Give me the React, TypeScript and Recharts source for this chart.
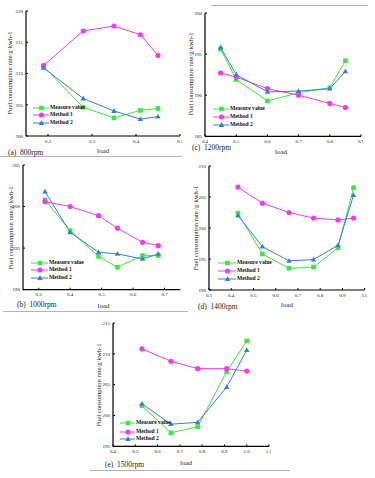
import React from "react";
import { LineChart, Line, XAxis, YAxis } from "recharts";

// ---------- data ----------
const load800 = [0.19, 0.28, 0.35, 0.41, 0.45];
const measure800 = [211.1, 204.6, 202.9, 204.1, 204.4];
const method1_800 = [211.3, 216.8, 217.6, 216.2, 212.9];
const method2_800 = [210.9, 206.0, 204.0, 202.7, 203.1];

const load1200 = [0.45, 0.5, 0.6, 0.7, 0.8, 0.85];
const measure1200 = [195.6, 191.9, 189.3, 190.3, 190.9, 194.2];
const method1_1200 = [192.7, 192.2, 190.8, 190.0, 189.0, 188.5];
const method2_1200 = [195.8, 192.5, 190.4, 190.5, 190.8, 192.9];

const load1000 = [0.32, 0.4, 0.49, 0.55, 0.63, 0.68];
const measure1000 = [200.8, 197.1, 194.0, 192.7, 194.1, 194.1];
const method1_1000 = [200.6, 200.0, 198.9, 197.4, 195.7, 195.3];
const method2_1000 = [201.8, 196.9, 194.5, 194.3, 193.7, 194.3];

const load1400 = [0.43, 0.54, 0.66, 0.77, 0.88, 0.95];
const measure1400 = [202.4, 195.8, 193.5, 193.7, 196.8, 206.5];
const method1_1400 = [206.6, 204.0, 202.5, 201.6, 201.3, 201.6];
const method2_1400 = [202.0, 197.0, 194.7, 194.9, 197.2, 205.3];

const load1500 = [0.53, 0.66, 0.78, 0.91, 1.0];
const measure1500 = [201.6, 197.2, 198.2, 207.1, 212.1];
const method1_1500 = [210.8, 208.8, 207.6, 207.6, 207.2];
const method2_1500 = [201.9, 198.6, 198.9, 204.6, 210.6];

const seriesNames = ["Measure value", "Method 1", "Method 2"];
const seriesColors = ["#3ee63e", "#ee3cee", "#3a7bd6"];
const seriesShapes = ["square", "circle", "triangle"];

const ticksX800 = [0.2, 0.3, 0.4, 0.5];
const ticksY800 = [200, 205, 210, 215, 220];
const ticksX1200 = [0.4, 0.5, 0.6, 0.7, 0.8, 0.9];
const ticksY1200 = [185, 190, 195, 200];
const ticksX1000 = [0.3, 0.4, 0.5, 0.6, 0.7];
const ticksY1000 = [190, 195, 200, 205];
const ticksX1400 = [0.3, 0.4, 0.5, 0.6, 0.7, 0.8, 0.9, 1.0];
const ticksY1400 = [190, 195, 200, 205, 210];
const ticksX1500 = [0.4, 0.5, 0.6, 0.7, 0.8, 0.9, 1.0, 1.1];
const ticksY1500 = [195, 200, 205, 210, 215];

const yLabel = "Fuel consumption rate/g·kwh-1";

// ---------- markers ----------
function Marker({ shape, cx, cy, color }: any) {
  if (cx == null || cy == null) return null;
  if (shape === "square")
    return <rect x={cx - 2.3} y={cy - 2.3} width={4.6} height={4.6} fill={color} />;
  if (shape === "circle") return <circle cx={cx} cy={cy} r={2.6} fill={color} />;
  return (
    <polygon
      points={`${cx},${cy - 2.9} ${cx - 2.7},${cy + 1.9} ${cx + 2.7},${cy + 1.9}`}
      fill={color}
    />
  );
}

const YW = 20;
const TM = 2;
const RM = 2;
const XH = 12;
const FONT = "'Liberation Serif', 'DejaVu Serif', serif";

type PanelProps = {
  left: number;
  right: number;
  top: number;
  bottom: number;
  xDomain: [number, number];
  yDomain: [number, number];
  xTicks: number[];
  yTicks: number[];
  loads: number[];
  measure: number[];
  m1: number[];
  m2: number[];
};

function Panel(p: PanelProps) {
  const data = p.loads.map((x, i) => ({
    x,
    s0: p.measure[i],
    s1: p.m1[i],
    s2: p.m2[i],
  }));
  const w = p.right - p.left + YW + RM;
  const h = p.bottom - p.top + TM + XH;
  const tick = { fontSize: 5, fill: "#222", fontFamily: FONT };
  return (
    <div style={{ position: "absolute", left: p.left - YW, top: p.top - TM }}>
      <LineChart width={w} height={h} data={data} margin={{ top: TM, right: RM, left: 0, bottom: 0 }}>
        <XAxis
          dataKey="x"
          type="number"
          domain={p.xDomain}
          ticks={p.xTicks}
          interval={0}
          allowDataOverflow
          height={XH}
          tick={tick}
          tickSize={-2}
          tickMargin={5}
          tickFormatter={(v: number) => v.toFixed(1)}
          axisLine={{ stroke: "#000", strokeWidth: 1.2 }}
          tickLine={{ stroke: "#000" }}
        />
        <XAxis
          xAxisId="top"
          dataKey="x"
          type="number"
          orientation="top"
          domain={p.xDomain}
          allowDataOverflow
          height={0}
          tick={false}
          tickLine={false}
          axisLine={{ stroke: "#000", strokeWidth: 1.2 }}
        />
        <YAxis
          type="number"
          domain={p.yDomain}
          ticks={p.yTicks}
          interval={0}
          allowDataOverflow
          width={YW}
          tick={tick}
          tickSize={-2}
          tickMargin={5}
          axisLine={{ stroke: "#000", strokeWidth: 1.2 }}
          tickLine={{ stroke: "#000" }}
        />
        <YAxis
          yAxisId="right"
          orientation="right"
          type="number"
          domain={p.yDomain}
          allowDataOverflow
          width={0}
          tick={false}
          tickLine={false}
          axisLine={{ stroke: "#000", strokeWidth: 1.2 }}
        />
        {[0, 1, 2].map((i) => (
          <Line
            key={i}
            dataKey={`s${i}`}
            name={seriesNames[i]}
            stroke={seriesColors[i]}
            strokeWidth={1}
            isAnimationActive={false}
            dot={(d: any) => (
              <Marker key={`${i}-${d.index}`} shape={seriesShapes[i]} cx={d.cx} cy={d.cy} color={seriesColors[i]} />
            )}
            activeDot={false}
          />
        ))}
      </LineChart>
    </div>
  );
}

function LegendBox({ x, tx, ys }: { x: number; tx: number; ys: number[] }) {
  return (
    <>
      {ys.map((y, i) => (
        <React.Fragment key={i}>
          <svg
            width={tx - x}
            height={8}
            style={{ position: "absolute", left: x, top: y - 4, overflow: "visible" }}
          >
            <line x1={0} y1={4} x2={tx - x - 1} y2={4} stroke={seriesColors[i]} strokeWidth={1} />
            <Marker shape={seriesShapes[i]} cx={(tx - x) / 2} cy={4} color={seriesColors[i]} />
          </svg>
          <div
            style={{
              position: "absolute",
              left: tx,
              top: y,
              transform: "translateY(-50%)",
              fontSize: 5.6,
              fontWeight: "bold",
              lineHeight: 1,
              whiteSpace: "nowrap",
              color: "#111",
              fontFamily: FONT,
            }}
          >
            {seriesNames[i]}
          </div>
        </React.Fragment>
      ))}
    </>
  );
}

function Text({ x, y, children, size, rotate, anchor }: any) {
  return (
    <div
      style={{
        position: "absolute",
        left: x,
        top: y,
        transform: `translate(${anchor === "start" ? "0" : "-50%"}, -50%)${rotate ? " rotate(-90deg)" : ""}`,
        fontSize: size,
        lineHeight: 1,
        whiteSpace: "nowrap",
        color: "#222",
        fontFamily: FONT,
      }}
    >
      {children}
    </div>
  );
}

function HLine({ x1, x2, y }: { x1: number; x2: number; y: number }) {
  return (
    <div
      style={{ position: "absolute", left: x1, top: y, width: x2 - x1, height: 1, background: "#b4b4b4" }}
    />
  );
}

export default function App() {
  return (
    <div
      style={{
        position: "absolute",
        left: 0,
        top: 0,
        width: 375,
        height: 478,
        background: "#fff",
        overflow: "hidden",
        fontFamily: FONT,
      }}
    >
      {/* separators */}
      <HLine x1={211} x2={368} y={5} />
      <HLine x1={0} x2={182} y={156} />
      <HLine x1={3} x2={188} y={311} />
      <HLine x1={90} x2={290} y={470} />

      {/* (a) 800rpm */}
      <Panel
        left={26} right={180} top={11} bottom={136}
        xDomain={[0.15, 0.5]} yDomain={[200, 220]}
        xTicks={ticksX800} yTicks={ticksY800}
        loads={load800} measure={measure800} m1={method1_800} m2={method2_800}
      />
      <LegendBox x={33} tx={50} ys={[107.7, 115.2, 123.2]} />
      <Text x={9.5} y={73} size={6.6} rotate>{yLabel}</Text>
      <Text x={103} y={150.5} size={7}>load</Text>
      <Text x={8} y={152.5} size={7.5} anchor="start">(a)&nbsp;&nbsp;800rpm</Text>

      {/* (c) 1200rpm */}
      <Panel
        left={205} right={361} top={12.7} bottom={136}
        xDomain={[0.4, 0.9]} yDomain={[185, 200]}
        xTicks={ticksX1200} yTicks={ticksY1200}
        loads={load1200} measure={measure1200} m1={method1_1200} m2={method2_1200}
      />
      <LegendBox x={213} tx={230} ys={[109, 117, 124.5]} />
      <Text x={191} y={74} size={6.6} rotate>{yLabel}</Text>
      <Text x={281} y={151.5} size={7}>load</Text>
      <Text x={192} y={148} size={7.5} anchor="start">(c)&nbsp;&nbsp;1200rpm</Text>

      {/* (b) 1000rpm */}
      <Panel
        left={22.7} right={180} top={165.3} bottom={290}
        xDomain={[0.25, 0.75]} yDomain={[190, 205]}
        xTicks={ticksX1000} yTicks={ticksY1000}
        loads={load1000} measure={measure1000} m1={method1_1000} m2={method2_1000}
      />
      <LegendBox x={31} tx={49} ys={[262.7, 270.2, 277.7]} />
      <Text x={10.5} y={228} size={6.6} rotate>{yLabel}</Text>
      <Text x={103.5} y={305.5} size={7}>load</Text>
      <Text x={17} y={305} size={7.5} anchor="start">(b)&nbsp;&nbsp;1000rpm</Text>

      {/* (d) 1400rpm */}
      <Panel
        left={209.3} right={365} top={166} bottom={290}
        xDomain={[0.3, 1.0]} yDomain={[190, 210]}
        xTicks={ticksX1400} yTicks={ticksY1400}
        loads={load1400} measure={measure1400} m1={method1_1400} m2={method2_1400}
      />
      <LegendBox x={218} tx={237} ys={[263, 270.8, 279.2]} />
      <Text x={195.5} y={228} size={6.6} rotate>Fuel consumption rate /g·kwh-1</Text>
      <Text x={287} y={305} size={7}>load</Text>
      <Text x={198} y={306.5} size={7.5} anchor="start">(d)&nbsp;&nbsp;1400rpm</Text>

      {/* (e) 1500rpm */}
      <Panel
        left={113.3} right={269.3} top={323.3} bottom={446.7}
        xDomain={[0.4, 1.1]} yDomain={[195, 215]}
        xTicks={ticksX1500} yTicks={ticksY1500}
        loads={load1500} measure={measure1500} m1={method1_1500} m2={method2_1500}
      />
      <LegendBox x={120} tx={136} ys={[423.3, 431.5, 439]} />
      <Text x={99} y={385} size={6.6} rotate>{yLabel}</Text>
      <Text x={186} y={462.7} size={7}>load</Text>
      <Text x={105} y={465} size={7.5} anchor="start">(e)&nbsp;&nbsp;1500rpm</Text>
    </div>
  );
}
